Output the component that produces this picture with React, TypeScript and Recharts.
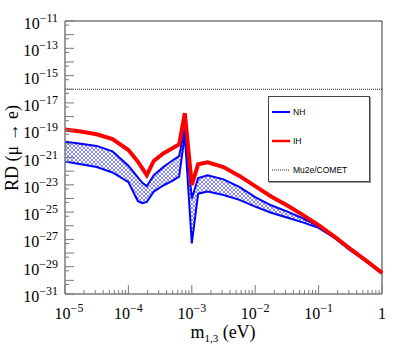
import React from "react";
import { ComposedChart, Area, Line, XAxis, YAxis, ReferenceLine, Legend } from "recharts";

// lightest neutrino mass m_{1,3} in eV
const MASS = [
  1e-5, 1.78e-5, 3.16e-5, 5.62e-5, 1e-4, 1.41e-4, 1.66e-4, 1.95e-4, 2.51e-4, 3.55e-4, 5.01e-4, 6.31e-4, 7.76e-4,
  1e-3, 1.26e-3, 1.78e-3, 3.16e-3, 5.62e-3, 1e-2, 1.78e-2, 3.16e-2, 5.62e-2, 0.1, 0.178, 0.316, 0.562, 1,
];

// inverted hierarchy (red)
const IH = [
  1.12e-19, 7.94e-20, 5.01e-20, 2.24e-20, 3.55e-21, 5.01e-22, 1.58e-22, 5.01e-23, 5.62e-22, 2.0e-21, 5.01e-21, 8.91e-21,
  1.78e-18, 1e-23, 3.16e-22, 4.47e-22, 2.0e-22, 4.47e-23, 7.94e-24, 1.41e-24, 3.16e-25, 6.31e-26, 1.12e-26, 1.58e-27,
  2.0e-28, 2.82e-29, 3.55e-30,
];

// normal hierarchy band (blue), upper and lower edge
const NH_HI = [
  1.41e-20, 1e-20, 7.08e-21, 2.82e-21, 2.51e-22, 3.55e-23, 1.41e-23, 7.94e-24, 5.01e-23, 2.0e-22, 6.31e-22, 1.26e-21,
  1.41e-19, 1e-24, 3.16e-23, 5.01e-23, 2.51e-23, 7.08e-24, 1.26e-24, 3.16e-25, 1.12e-25, 3.55e-26, 8.91e-27, 1.41e-27,
  1.78e-28, 2.51e-29, 3.55e-30,
];
const NH_LO = [
  5.01e-22, 3.16e-22, 2.0e-22, 7.94e-23, 1.58e-23, 6.31e-25, 4.47e-25, 5.62e-25, 3.16e-24, 8.91e-24, 2.0e-23, 3.98e-23,
  4.47e-20, 5.01e-28, 2.24e-24, 3.16e-24, 1.78e-24, 7.94e-25, 2.51e-25, 8.91e-26, 3.98e-26, 1.78e-26, 7.08e-27, 1.26e-27,
  1.58e-28, 2.51e-29, 3.55e-30,
];

// Mu2e/COMET sensitivity
const MU2E = 1e-16;

const SERIES = [
  { key: "NH", color: "#0000ff", width: 2, dash: undefined as string | undefined },
  { key: "IH", color: "#ff0000", width: 2.5, dash: undefined as string | undefined },
  { key: "Mu2e/COMET", color: "#222", width: 1, dash: "1 1" },
];

// axis ticks: every decade + 5x on y, 1..9 x decade on x
const Y_EXP = Array.from({ length: 21 }, (_, i) => -31 + i);
const Y_TICKS = Y_EXP.flatMap((e) => (e < -11 ? [Number(`1e${e}`), Number(`5e${e}`)] : [Number(`1e${e}`)]));
const X_EXP = [-5, -4, -3, -2, -1];
const X_TICKS = [...X_EXP.flatMap((e) => [1, 2, 3, 4, 5, 6, 7, 8, 9].map((k) => Number(`${k}e${e}`))), 1];

const rows = MASS.map((m, i) => ({ m, ih: IH[i], nhHi: NH_HI[i], nhLo: NH_LO[i], band: [NH_LO[i], NH_HI[i]] }));

const W = 407;
const H = 346;
const PLOT = { left: 65, right: 382, top: 21, bottom: 294 };
const AXIS = "#7a7a7a";
const SERIF = "'Liberation Serif', 'Times New Roman', serif";
const SANS = "'Liberation Sans', Arial, sans-serif";

const expOf = (v: number) => Math.round(Math.log10(v));
const isDecade = (v: number) => Math.abs(Math.log10(v) - expOf(v)) < 1e-9;

function YTick(props: any) {
  const { y, payload } = props;
  const v = payload.value;
  const e = expOf(v);
  const dec = isDecade(v);
  const labeled = dec && Math.abs(e) % 2 === 1;
  return (
    <g>
      <line x1={PLOT.left} x2={PLOT.left + (dec ? 9 : 4)} y1={y} y2={y} stroke={AXIS} />
      {labeled && (
        <text x={58} y={y + 8} textAnchor="end" fontFamily={SERIF} fontSize={16} fill="#000">
          10
          <tspan dy={-7} fontSize={12}>{`\u2212${-e}`}</tspan>
        </text>
      )}
    </g>
  );
}

function XTick(props: any) {
  const { x, payload } = props;
  const v = payload.value;
  const e = expOf(v);
  const dec = isDecade(v);
  // the first label sits a little to the right, as in ROOT
  const shift = e === -5 ? 4 : 0;
  return (
    <g>
      <line x1={x} x2={x} y1={PLOT.bottom} y2={PLOT.bottom - (dec ? 9 : 4)} stroke={AXIS} />
      {dec &&
        (e === 0 ? (
          <text x={x} y={319} textAnchor="middle" fontFamily={SERIF} fontSize={16} fill="#000">
            1
          </text>
        ) : (
          <text x={x + shift} y={319} textAnchor="middle" fontFamily={SERIF} fontSize={16} fill="#000">
            10
            <tspan dy={-7} fontSize={12}>{`\u2212${-e}`}</tspan>
          </text>
        ))}
    </g>
  );
}

function LegendBox() {
  return (
    <div
      style={{
        width: 102,
        height: 86,
        boxSizing: "border-box",
        border: "1px solid #444",
        boxShadow: "1px 1px 0 #999",
        background: "#fff",
        position: "relative",
        fontFamily: SANS,
        fontSize: 8.5,
        color: "#000",
      }}
    >
      {SERIES.map((s, i) => (
        <div
          key={s.key}
          style={{ position: "absolute", left: 3, top: 9 + i * 29, height: 12, display: "flex", alignItems: "center" }}
        >
          <svg width={18} height={4} style={{ display: "block" }}>
            <line x1={0} x2={18} y1={2} y2={2} stroke={s.color} strokeWidth={s.width} strokeDasharray={s.dash} />
          </svg>
          <span style={{ marginLeft: 3, lineHeight: "12px" }}>{s.key}</span>
        </div>
      ))}
    </div>
  );
}

export default function App() {
  return (
    <div style={{ position: "absolute", left: 0, top: 0, width: W, height: H, background: "#fff" }}>
      <ComposedChart width={W} height={H} data={rows} margin={{ top: PLOT.top, right: W - PLOT.right, bottom: 0, left: 0 }}>
        <defs>
          <pattern id="nhHatch" width={4} height={4} patternUnits="userSpaceOnUse">
            <rect width={4} height={4} fill="#ffffff" />
            <path d="M0,0 L4,4 M4,0 L0,4" stroke="#5252ff" strokeWidth={0.7} />
          </pattern>
        </defs>
        <XAxis
          dataKey="m"
          type="number"
          scale="log"
          domain={[1e-5, 1]}
          ticks={X_TICKS}
          interval={0}
          height={H - PLOT.bottom}
          tick={<XTick />}
          tickLine={false}
          axisLine={{ stroke: AXIS, strokeWidth: 1.5 }}
        />
        <YAxis
          type="number"
          scale="log"
          domain={[1e-31, 1e-11]}
          ticks={Y_TICKS}
          interval={0}
          width={PLOT.left}
          tick={<YTick />}
          tickLine={false}
          axisLine={{ stroke: AXIS, strokeWidth: 1.5 }}
          allowDataOverflow
        />
        <ReferenceLine y={1e-11} stroke={AXIS} strokeWidth={1.5} />
        <ReferenceLine x={1} stroke="#333" strokeWidth={1} />
        <Area dataKey="band" type="linear" stroke="none" fill="url(#nhHatch)" fillOpacity={1} isAnimationActive={false} />
        <Line dataKey="nhHi" type="linear" stroke="#0000ff" strokeWidth={2} dot={false} isAnimationActive={false} />
        <Line dataKey="nhLo" type="linear" stroke="#0000ff" strokeWidth={2} dot={false} isAnimationActive={false} />
        <Line dataKey="ih" type="linear" stroke="#ff0000" strokeWidth={4} dot={false} isAnimationActive={false} />
        <ReferenceLine y={MU2E} stroke="#222" strokeWidth={1} strokeDasharray="1 1" />
        <Legend
          layout="horizontal"
          verticalAlign="middle"
          align="center"
          content={() => <LegendBox />}
          wrapperStyle={{ position: "absolute", left: 268, top: 96, width: 102, height: 86 }}
        />
      </ComposedChart>
      <svg width={W} height={H} style={{ position: "absolute", left: 0, top: 0, pointerEvents: "none" }}>
        <text
          transform="translate(18,148) rotate(-90)"
          textAnchor="middle"
          fontFamily={SERIF}
          fontSize={18}
          fill="#000"
        >
          RD (μ → e)
        </text>
        <text x={223} y={338} textAnchor="middle" fontFamily={SERIF} fontSize={18} fill="#000">
          m
          <tspan dy={4} fontSize={11}>1,3</tspan>
          <tspan dy={-4}> (eV)</tspan>
        </text>
      </svg>
    </div>
  );
}
